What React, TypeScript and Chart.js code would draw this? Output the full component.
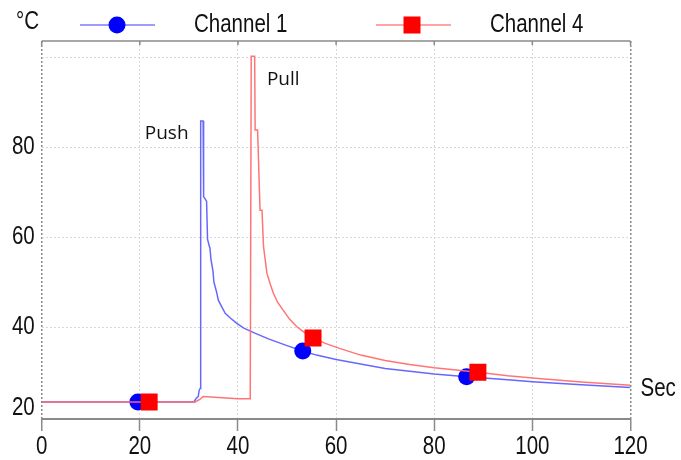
import React, { useEffect, useRef } from 'react';
import { Chart, registerables } from 'chart.js';

Chart.register(...registerables);

// ---- data ----
const X_TICKS = [0, 20, 40, 60, 80, 100, 120];
const X_TICK_LABELS = ['0', '20', '40', '60', '80', '100', '120'];
const Y_TICKS = [20, 40, 60, 80, 100];
const Y_TICK_LABELS = ['20', '40', '60', '80', ''];
const SERIES_NAMES = ['Channel 1', 'Channel 4'];
const Y_UNIT = '°C';
const X_UNIT = 'Sec';

const CH1_TIME = [0, 19.6, 31.0, 31.5, 31.9, 32.1, 32.3, 32.4, 32.9, 33.0, 33.6, 33.8, 34.3, 34.5, 34.9, 35.1, 35.6, 36.0, 36.7, 37.4, 38.5, 39.7, 41.2, 43.2, 46.2, 50.0, 53.2, 56.0, 60.0, 70.0, 80.0, 86.6, 95.0, 100.0, 110.0, 120.0];
const CH1_TEMP = [23.4, 23.4, 23.4, 24.2, 24.6, 26.0, 26.4, 85.8, 85.8, 69.0, 68.0, 59.5, 57.5, 55.0, 52.5, 50.0, 48.0, 46.0, 44.5, 43.1, 42.0, 40.9, 39.8, 38.8, 37.4, 35.9, 34.7, 33.8, 32.8, 30.8, 29.6, 29.0, 28.3, 27.9, 27.2, 26.6];
const CH1_MARKERS = [19.6, 53.2, 86.6];

const CH4_TIME = [0, 21.9, 31.3, 32.3, 32.9, 36.0, 40.0, 42.5, 42.7, 43.4, 43.5, 44.0, 44.5, 44.9, 45.2, 45.9, 46.6, 47.2, 48.1, 49.2, 50.5, 52.0, 53.6, 55.3, 57.8, 60.7, 65.0, 70.0, 75.0, 80.0, 88.9, 95.0, 100.0, 110.0, 120.0];
const CH4_TEMP = [23.4, 23.4, 23.4, 24.0, 24.6, 24.4, 24.1, 24.1, 100.2, 100.2, 83.8, 83.8, 66.0, 66.0, 58.0, 52.0, 49.5, 47.6, 45.5, 43.8, 41.8, 40.1, 38.8, 37.6, 36.4, 35.3, 33.8, 32.6, 31.7, 31.0, 30.0, 29.2, 28.7, 27.8, 27.1];
const CH4_MARKERS = [21.9, 55.3, 88.9];

const ANNOTATION_TEXTS = ['Push', 'Pull'];
const ANNOTATION_AT = [[21.0, 81.8], [45.9, 93.8]];

// ---- styles ----
const FONT = "'Liberation Sans', Arial, sans-serif";
const NARROW_SCALE = 0.82;
const BLUE_LINE = 'rgba(95,95,255,0.95)';
const RED_LINE = 'rgba(255,110,110,0.95)';
const BLUE_MARK = '#0000ff';
const RED_MARK = '#ff0000';

const isMarker = (list: number[], x: number) => list.some((m) => Math.abs(m - x) < 1e-6);

function narrowText(ctx: CanvasRenderingContext2D, text: string, x: number, y: number, align: CanvasTextAlign) {
  ctx.save();
  ctx.translate(x, y);
  ctx.scale(NARROW_SCALE, 1);
  ctx.textAlign = align;
  ctx.textBaseline = 'middle';
  ctx.fillText(text, 0, 0);
  ctx.restore();
}

const overlayPlugin = {
  id: 'overlay',
  afterDraw(chart: any) {
    const { ctx, chartArea, scales } = chart;
    const xs = scales.x;
    const ys = scales.y;
    ctx.save();
    // top border with small ticks
    ctx.strokeStyle = '#8a8a8a';
    ctx.lineWidth = 1.5;
    ctx.beginPath();
    ctx.moveTo(chartArea.left, chartArea.top);
    ctx.lineTo(chartArea.right, chartArea.top);
    X_TICKS.forEach((t) => {
      const px = xs.getPixelForValue(t);
      ctx.moveTo(px, chartArea.top);
      ctx.lineTo(px, chartArea.top + 4);
    });
    ctx.stroke();

    // legend
    const ly = 25;
    ctx.lineWidth = 1.5;
    ctx.strokeStyle = 'rgba(110,110,255,0.9)';
    ctx.beginPath();
    ctx.moveTo(80, ly);
    ctx.lineTo(155, ly);
    ctx.stroke();
    ctx.fillStyle = BLUE_MARK;
    ctx.beginPath();
    ctx.arc(117, ly, 8.5, 0, Math.PI * 2);
    ctx.fill();

    ctx.strokeStyle = 'rgba(255,120,120,0.9)';
    ctx.beginPath();
    ctx.moveTo(376, ly);
    ctx.lineTo(451, ly);
    ctx.stroke();
    ctx.fillStyle = RED_MARK;
    ctx.fillRect(412 - 8.5, ly - 8.5, 17, 17);

    ctx.fillStyle = '#111';
    ctx.font = `25px ${FONT}`;
    narrowText(ctx, SERIES_NAMES[0], 194, ly, 'left');
    narrowText(ctx, SERIES_NAMES[1], 490, ly, 'left');
    narrowText(ctx, Y_UNIT, 16, 22, 'left');
    narrowText(ctx, X_UNIT, chartArea.right + 10, ys.getPixelForValue(CH1_TEMP[CH1_TEMP.length - 1]) + 2, 'left');

    // tick labels
    X_TICKS.forEach((t, i) => {
      narrowText(ctx, X_TICK_LABELS[i], xs.getPixelForValue(t), chartArea.bottom + 28, 'center');
    });
    Y_TICKS.forEach((v, i) => {
      if (!Y_TICK_LABELS[i]) return;
      let py = ys.getPixelForValue(v);
      if (py > chartArea.bottom - 12) py = chartArea.bottom - 11;
      narrowText(ctx, Y_TICK_LABELS[i], chartArea.left - 7, py, 'right');
    });

    // annotations
    ctx.font = `19px 'Open Sans', 'Liberation Sans', sans-serif`;
    ctx.textBaseline = 'alphabetic';
    ctx.textAlign = 'left';
    ANNOTATION_TEXTS.forEach((txt, i) => {
      const [tx, ty] = ANNOTATION_AT[i];
      ctx.fillText(txt, xs.getPixelForValue(tx), ys.getPixelForValue(ty));
    });
    ctx.restore();
  },
};

export default function App() {
  const ref = useRef<HTMLCanvasElement | null>(null);
  useEffect(() => {
    document.body.style.margin = '0';
    const canvas = ref.current!;
    const ch1 = CH1_TIME.map((t, i) => ({ x: t, y: CH1_TEMP[i] }));
    const ch4 = CH4_TIME.map((t, i) => ({ x: t, y: CH4_TEMP[i] }));
    const chart = new Chart(canvas, {
      type: 'line',
      data: {
        datasets: [
          {
            label: SERIES_NAMES[0],
            data: ch1,
            borderColor: BLUE_LINE,
            borderWidth: 1.5,
            backgroundColor: BLUE_MARK,
            pointBackgroundColor: BLUE_MARK,
            pointBorderWidth: 0,
            pointStyle: 'circle',
            pointRadius: (c: any) => (c.raw && isMarker(CH1_MARKERS, c.raw.x) ? 8.5 : 0),
            pointHoverRadius: 0,
            tension: 0,
            order: 1,
          },
          {
            label: SERIES_NAMES[1],
            data: ch4,
            borderColor: RED_LINE,
            borderWidth: 1.5,
            backgroundColor: RED_MARK,
            pointBackgroundColor: RED_MARK,
            pointBorderWidth: 0,
            pointStyle: 'rect',
            pointRadius: (c: any) => (c.raw && isMarker(CH4_MARKERS, c.raw.x) ? 12 : 0),
            pointHoverRadius: 0,
            tension: 0,
            order: 0,
          },
        ],
      },
      options: {
        responsive: false,
        animation: false,
        events: [],
        layout: { padding: { top: 41, right: 50.5, left: 0, bottom: 0 } },
        plugins: { legend: { display: false }, tooltip: { enabled: false } },
        scales: {
          x: {
            type: 'linear',
            min: 0,
            max: 120,
            afterBuildTicks: (s: any) => {
              s.ticks = X_TICKS.map((v) => ({ value: v }));
            },
            afterFit: (s: any) => {
              s.height = 41;
            },
            ticks: { display: false, autoSkip: false, maxRotation: 0 },
            grid: {
              color: (c: any) => (c.tick && (c.tick.value === 0 || c.tick.value === 120) ? '#8a8a8a' : '#d8d8d8'),
              lineWidth: (c: any) => (c.tick && (c.tick.value === 0 || c.tick.value === 120) ? 1.5 : 1),
              drawTicks: true,
              tickLength: 12,
              tickColor: '#8a8a8a',
              tickWidth: 1.5,
              tickBorderDash: [],
            },
            border: { display: true, color: '#8a8a8a', width: 2, dash: [2, 2] },
          },
          y: {
            type: 'linear',
            min: 19.6,
            max: 103.6,
            afterBuildTicks: (s: any) => {
              s.ticks = Y_TICKS.map((v) => ({ value: v }));
            },
            afterFit: (s: any) => {
              s.width = 41.7;
            },
            ticks: { display: false },
            grid: {
              color: (c: any) => (c.tick && c.tick.value === 20 ? 'rgba(0,0,0,0)' : '#d8d8d8'),
              lineWidth: 1,
              drawTicks: false,
            },
            border: { display: false, dash: [2, 2] },
          },
        },
      },
      plugins: [overlayPlugin],
    } as any);
    return () => chart.destroy();
  }, []);
  return (
    <div style={{ width: 681, height: 460 }}>
      <canvas ref={ref} width={681} height={460} style={{ display: 'block' }} />
    </div>
  );
}
